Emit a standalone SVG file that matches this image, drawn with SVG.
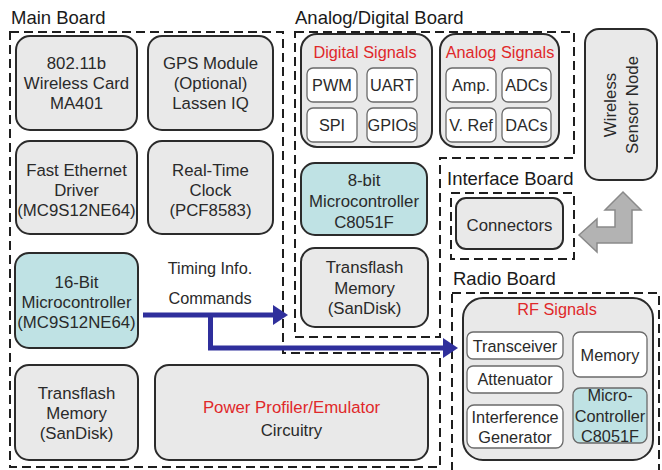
<svg xmlns="http://www.w3.org/2000/svg" width="662" height="470" viewBox="0 0 662 470">
<defs>
<style>
text{font-family:"Liberation Sans",Arial,sans-serif;font-size:16.8px;fill:#2a2a2a;text-anchor:middle}
.lbl{font-size:18.5px;text-anchor:start;fill:#1a1a1a}
.s{font-size:16.3px}
.red{fill:#e0282a}
.box{fill:#e9e9e9;stroke:#2b2b2b;stroke-width:2}
.mcu{fill:#bfe2e4;stroke:#2b2b2b;stroke-width:2}
.sub{fill:#ffffff;stroke:#6a6a6a;stroke-width:1.3}
.subc{fill:#bfe2e4;stroke:#6a6a6a;stroke-width:1.3}
.dash{fill:none;stroke:#1e1e1e;stroke-width:2;stroke-dasharray:9 5}
.blue{fill:none;stroke:#2f2f9c;stroke-width:5}
</style>
<marker id="ah" markerWidth="4" markerHeight="4" refX="0" refY="1.6" orient="auto" markerUnits="strokeWidth" viewBox="0 0 2.4 3.2">
<path d="M0,0 L2.4,1.6 L0,3.2 Z" fill="#2f2f9c"/>
</marker>
</defs>
<rect width="662" height="470" fill="#ffffff"/>

<g id="boards">
<text class="lbl" x="11" y="24">Main Board</text>
<path class="dash" d="M10,32 H283 V353 H440 V467 H10 Z"/>
<text class="lbl" x="295" y="24">Analog/Digital Board</text>
<path class="dash" d="M295,32 H574 V158 H440 V337 H295 Z"/>
<text class="lbl" x="447" y="185">Interface Board</text>
<rect class="dash" x="451" y="193" width="123" height="66"/>
<text class="lbl" x="453" y="285">Radio Board</text>
<rect class="dash" x="452" y="293" width="207" height="190"/>
</g>

<g id="wifi">
<rect class="box" x="16" y="36" width="121" height="94" rx="14"/>
<text x="76.5" y="69">802.11b</text>
<text x="76.5" y="89">Wireless Card</text>
<text x="76.5" y="109">MA401</text>
</g>
<g id="gps">
<rect class="box" x="148" y="36" width="125" height="94" rx="14"/>
<text x="210.5" y="69">GPS Module</text>
<text x="210.5" y="89">(Optional)</text>
<text x="210.5" y="109">Lassen IQ</text>
</g>
<g id="ethernet">
<rect class="box" x="16" y="141" width="121" height="93" rx="14"/>
<text x="76.5" y="176">Fast Ethernet</text>
<text x="76.5" y="196">Driver</text>
<text x="76.5" y="216">(MC9S12NE64)</text>
</g>
<g id="rtc">
<rect class="box" x="148" y="141" width="125" height="93" rx="14"/>
<text x="210.5" y="176">Real-Time</text>
<text x="210.5" y="196">Clock</text>
<text x="210.5" y="216">(PCF8583)</text>
</g>
<g id="mcu16">
<rect class="mcu" x="15" y="253" width="123" height="95" rx="14"/>
<text x="76.5" y="288">16-Bit</text>
<text x="76.5" y="308">Microcontroller</text>
<text x="76.5" y="328">(MC9S12NE64)</text>
</g>
<g id="tf-main">
<rect class="box" x="15" y="365" width="123" height="95" rx="14"/>
<text x="76.5" y="399">Transflash</text>
<text x="76.5" y="419">Memory</text>
<text x="76.5" y="439">(SanDisk)</text>
</g>
<g id="power">
<rect class="box" x="155" y="365" width="273" height="95" rx="14"/>
<text class="red" x="291.5" y="413">Power Profiler/Emulator</text>
<text x="291.5" y="436">Circuitry</text>
</g>

<g id="digital">
<rect class="box" x="301" y="34" width="131" height="113" rx="16"/>
<text class="red s" x="365" y="58">Digital Signals</text>
<rect class="sub" x="307" y="68" width="50" height="34" rx="6"/>
<text class="s" x="332" y="91">PWM</text>
<rect class="sub" x="367" y="68" width="50" height="34" rx="6"/>
<text class="s" x="392" y="91">UART</text>
<rect class="sub" x="307" y="108" width="50" height="34" rx="6"/>
<text class="s" x="332" y="131">SPI</text>
<rect class="sub" x="367" y="108" width="50" height="34" rx="6"/>
<text class="s" x="392" y="131">GPIOs</text>
</g>
<g id="analog">
<rect class="box" x="440" y="34" width="119" height="113" rx="16"/>
<text class="red s" x="500" y="58">Analog Signals</text>
<rect class="sub" x="446" y="68" width="50" height="34" rx="6"/>
<text class="s" x="471" y="91">Amp.</text>
<rect class="sub" x="502" y="68" width="49" height="34" rx="6"/>
<text class="s" x="526.5" y="91">ADCs</text>
<rect class="sub" x="446" y="108" width="50" height="34" rx="6"/>
<text class="s" x="471" y="131">V. Ref</text>
<rect class="sub" x="502" y="108" width="49" height="34" rx="6"/>
<text class="s" x="526.5" y="131">DACs</text>
</g>
<g id="mcu8">
<rect class="mcu" x="301" y="163" width="126" height="72" rx="14"/>
<text x="364" y="186">8-bit</text>
<text x="364" y="207">Microcontroller</text>
<text x="364" y="228">C8051F</text>
</g>
<g id="tf-ad">
<rect class="box" x="301" y="248" width="127" height="79" rx="14"/>
<text x="364.5" y="273">Transflash</text>
<text x="364.5" y="294">Memory</text>
<text x="364.5" y="314">(SanDisk)</text>
</g>

<g id="wsn">
<rect class="box" x="585" y="29" width="72" height="151" rx="14"/>
<text transform="translate(616,105) rotate(-90)">Wireless</text>
<text transform="translate(638,105) rotate(-90)">Sensor Node</text>
</g>

<g id="connectors">
<rect class="box" x="456" y="198" width="107" height="51" rx="10"/>
<text x="509.5" y="231">Connectors</text>
</g>

<g id="rf">
<rect class="box" x="463" y="298" width="190" height="162" rx="20"/>
<text class="red s" x="557" y="315">RF Signals</text>
<rect class="sub" x="467" y="332" width="96" height="27" rx="6"/>
<text class="s" x="515" y="352">Transceiver</text>
<rect class="sub" x="467" y="366" width="96" height="27" rx="6"/>
<text class="s" x="515" y="385">Attenuator</text>
<rect class="sub" x="467" y="405" width="96" height="43" rx="7"/>
<text class="s" x="515" y="423">Interference</text>
<text class="s" x="515" y="443">Generator</text>
<rect class="sub" x="573" y="332" width="74" height="45" rx="7"/>
<text class="s" x="610" y="361">Memory</text>
<rect class="subc" x="573" y="388" width="74" height="55" rx="7"/>
<text class="s" x="610" y="401">Micro-</text>
<text class="s" x="610" y="422">Controller</text>
<text class="s" x="610" y="442">C8051F</text>
</g>

<g id="connectors-lines">
<path d="M579,235 L597,219 L597,227 L615,227 L615,210 L605,210 L623,192 L641,210 L632,210 L632,243 L597,243 L597,252 Z" fill="#b3b3b3" stroke="#8a8a8a" stroke-width="1.5"/>
<path class="blue" d="M143,315 H273" marker-end="url(#ah)"/>
<path class="blue" d="M210.5,315 V348 H443" marker-end="url(#ah)"/>
<text class="s" x="210" y="274">Timing Info.</text>
<text class="s" x="210" y="304">Commands</text>
</g>
</svg>
